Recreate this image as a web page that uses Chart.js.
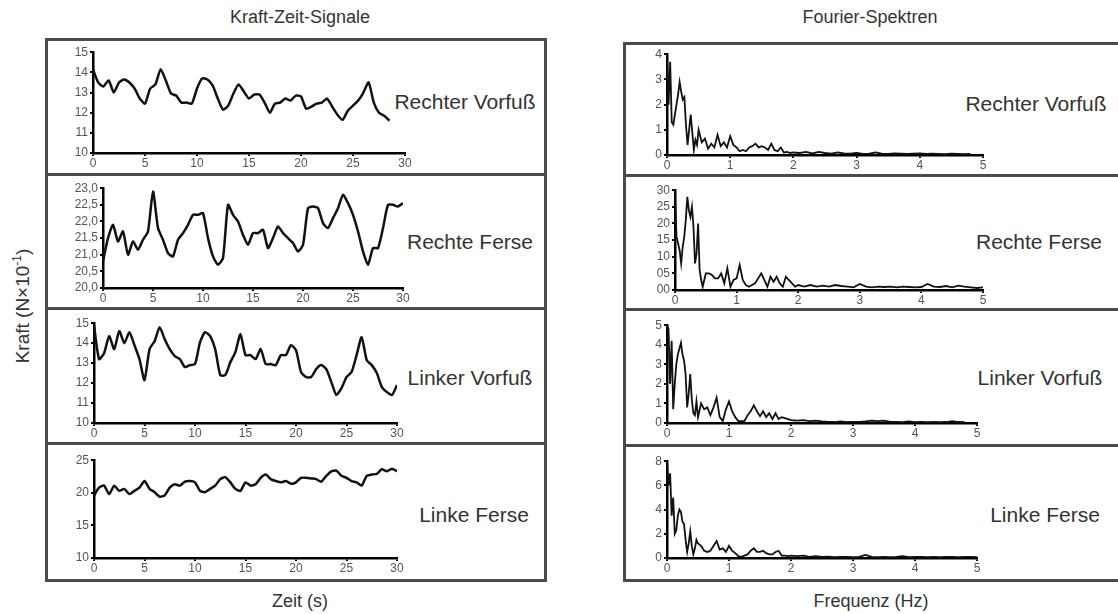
<!DOCTYPE html>
<html>
<head>
<meta charset="utf-8">
<style>
  body { margin: 0; background: #fff; }
  #wrap { position: relative; width: 1118px; height: 614px; font-family: "Liberation Sans", Arial, sans-serif; color: #333; overflow: hidden; }
  .box { position: absolute; border: 3px solid #4a4a4a; box-sizing: border-box; }
  .rule { position: absolute; height: 3px; background: #4a4a4a; }
  .lbl { position: absolute; transform: translate(-50%, -50%); white-space: nowrap; font-size: 21px; color: #333; }
  .head { position: absolute; transform: translate(-50%, -50%); white-space: nowrap; font-family: "Liberation Sans Narrow", "Liberation Sans", Arial, sans-serif; font-size: 18px; color: #333; }
  .foot { position: absolute; transform: translate(-50%, -50%); white-space: nowrap; font-size: 18px; color: #333; }
  canvas { position: absolute; }
</style>
</head>
<body>
<div id="wrap">
  <div class="head" style="left:300px;top:17px">Kraft-Zeit-Signale</div>
  <div class="head" style="left:870px;top:17px">Fourier-Spektren</div>
  <div class="foot" style="left:300px;top:601px">Zeit (s)</div>
  <div class="foot" style="left:871px;top:601px">Frequenz (Hz)</div>
  <div class="foot" style="left:22px;top:306px;font-size:19px;transform:translate(-50%,-50%) rotate(-90deg)">Kraft (N×10<sup style="font-size:12px">-1</sup>)</div>

  <div class="box" style="left:45px;top:38px;width:502px;height:544px"></div>
  <div class="rule" style="left:45px;top:173px;width:502px"></div>
  <div class="rule" style="left:45px;top:307px;width:502px"></div>
  <div class="rule" style="left:45px;top:442px;width:502px"></div>

  <div class="box" style="left:623px;top:42px;width:500px;height:540px"></div>
  <div class="rule" style="left:623px;top:174px;width:500px"></div>
  <div class="rule" style="left:623px;top:308px;width:500px"></div>
  <div class="rule" style="left:623px;top:444px;width:500px"></div>

  <div class="lbl" style="left:465px;top:102px">Rechter Vorfuß</div>
  <div class="lbl" style="left:470px;top:242px">Rechte Ferse</div>
  <div class="lbl" style="left:470px;top:378px">Linker Vorfuß</div>
  <div class="lbl" style="left:474px;top:515px">Linke Ferse</div>
  <div class="lbl" style="left:1036px;top:104px">Rechter Vorfuß</div>
  <div class="lbl" style="left:1039px;top:242px">Rechte Ferse</div>
  <div class="lbl" style="left:1040px;top:378px">Linker Vorfuß</div>
  <div class="lbl" style="left:1045px;top:515px">Linke Ferse</div>
</div>

<script src="https://cdn.jsdelivr.net/npm/chart.js"></script>
<script>
// time axis (s), 0.5 s steps
const time = [0,0.5,1,1.5,2,2.5,3,3.5,4,4.5,5,5.5,6,6.5,7,7.5,8,8.5,9,9.5,
  10,10.5,11,11.5,12,12.5,13,13.5,14,14.5,15,15.5,16,16.5,17,17.5,18,18.5,19,19.5,
  20,20.5,21,21.5,22,22.5,23,23.5,24,24.5,25,25.5,26,26.5,27,27.5,28,28.5,29,29.5,30];

// force signals
const rechterVorfuss = [14.15,13.5,13.3,13.6,13.0,13.5,13.65,13.5,13.2,12.7,
  12.45,13.2,13.4,14.15,13.6,12.95,12.85,12.5,12.5,12.45,
  13.2,13.7,13.65,13.35,12.7,12.15,12.35,12.95,13.4,13.05,
  12.7,12.9,12.9,12.5,12.0,12.45,12.5,12.7,12.6,12.85,
  12.8,12.2,12.3,12.45,12.5,12.7,12.3,11.9,11.65,12.1,
  12.35,12.6,13.0,13.5,12.5,12.0,11.85,11.6];
const rechteFerse = [20.8,21.5,21.9,21.4,21.7,21.0,21.4,21.15,21.45,21.7,
  22.9,21.8,21.45,21.05,20.95,21.45,21.65,21.9,22.2,22.2,
  22.25,21.5,20.95,20.7,20.9,22.5,22.2,22.0,21.6,21.3,
  21.65,21.65,21.75,21.2,21.5,21.85,21.65,21.5,21.35,21.1,
  21.3,22.4,22.45,22.4,21.95,21.8,22.1,22.4,22.8,22.55,
  22.2,21.7,21.1,20.7,21.2,21.2,21.8,22.5,22.5,22.45,22.55];
const linkerVorfuss = [14.9,13.2,13.5,14.35,13.7,14.6,14.0,14.55,13.9,13.2,
  12.15,13.7,14.1,14.8,14.2,13.7,13.35,13.2,12.8,12.9,
  12.95,14.05,14.55,14.35,13.7,12.4,12.4,13.05,13.55,14.45,
  13.4,13.4,13.2,13.7,12.95,12.95,12.9,13.4,13.4,13.9,
  13.65,12.55,12.3,12.3,12.7,12.9,12.7,12.05,11.4,11.75,
  12.3,12.55,13.4,14.3,13.15,12.9,12.5,11.8,11.55,11.4,11.9];
const linkeFerse = [19.55,20.8,21.1,19.8,21.1,20.3,20.6,19.8,20.3,20.8,
  21.8,20.6,20.1,19.4,19.6,20.8,21.3,21.1,21.7,21.8,
  21.6,20.3,20.1,20.6,21.1,22.1,22.4,21.6,20.6,20.3,
  21.6,21.1,21.3,22.3,22.8,22.1,21.8,21.6,21.8,21.4,
  21.6,22.3,22.3,22.2,22.1,21.7,22.6,23.3,23.4,22.6,
  22.3,21.8,21.6,21.1,22.6,22.8,22.9,23.6,23.3,23.7,23.3];

// frequency axis (Hz)
const freq = [0,0.025,0.05,0.075,0.1,0.125,0.15,0.175,0.2,0.225,0.25,0.275,0.3,0.325,0.35,0.375,0.4,0.425,0.45,0.475,0.5,
  0.55,0.6,0.65,0.7,0.75,0.8,0.85,0.9,0.95,1.0,1.05,1.1,1.15,1.2,1.25,1.3,1.35,1.4,1.45,1.5,
  1.55,1.6,1.65,1.7,1.75,1.8,1.85,1.9,1.95,2.0,
  2.1,2.2,2.3,2.4,2.5,2.6,2.7,2.8,2.9,3.0,3.1,3.2,3.3,3.4,3.5,3.6,3.7,3.8,3.9,4.0,
  4.1,4.2,4.3,4.4,4.5,4.6,4.7,4.8,4.9,5.0];

// spectra
const specRechterVorfuss = [4.0,2.0,3.7,1.3,1.2,1.6,2.0,2.4,2.9,2.5,2.2,2.3,1.2,0.4,1.0,1.6,0.9,0.2,0.6,0.4,1.0,
  0.5,0.65,0.25,0.45,0.3,0.8,0.35,0.5,0.3,0.75,0.4,0.3,0.15,0.2,0.15,0.3,0.35,0.45,0.3,0.35,
  0.3,0.2,0.45,0.2,0.15,0.3,0.1,0.12,0.08,0.1,
  0.08,0.12,0.06,0.12,0.08,0.05,0.1,0.06,0.05,0.08,0.04,0.05,0.1,0.05,0.04,0.06,0.05,0.04,0.05,0.06,
  0.04,0.05,0.04,0.03,0.05,0.04,0.03,0.04];
const specRechteFerse = [29.5,16,14,12,8,13,16,21,28,24,22,25,19,8,11,20,6,3,1,3,5,
  5,4.5,3.5,3.5,5,2,6.5,1,3,3.5,7.5,3,1.5,1,1.5,2,3.5,5,3,1,
  4,2.5,4,2,1,4,3,2,1,1.5,
  1,1.5,1,1.3,1,1.5,1.2,1,0.8,1.8,1,0.8,1,0.9,1,0.8,1,0.9,0.8,0.9,
  1.8,1,0.9,1.2,0.8,1.3,1,0.8,0.6,0.8];
const specLinkerVorfuss = [5.0,4.8,2.0,4.2,0.7,2.0,3.0,3.5,3.8,4.1,3.5,3.2,2.5,0.8,1.5,2.5,1.2,0.5,0.4,1.1,0.3,
  1.0,0.7,0.8,0.4,0.8,1.3,0.3,0.1,0.7,1.1,0.6,0.3,0.1,0.1,0.1,0.4,0.6,0.9,0.6,0.35,
  0.6,0.3,0.5,0.2,0.5,0.2,0.3,0.25,0.2,0.15,
  0.12,0.15,0.1,0.12,0.08,0.06,0.05,0.08,0.05,0.05,0.06,0.08,0.12,0.1,0.12,0.06,0.05,0.04,0.08,0.04,
  0.05,0.04,0.05,0.04,0.05,0.1,0.05,0.04];
const specLinkeFerse = [8.0,6.0,7.0,3.5,5.0,2.0,2.3,3.5,4.0,3.8,3.0,2.8,1.5,0.5,1.2,2.2,1.0,0.3,0.8,1.5,1.2,
  1.0,0.6,0.5,0.6,1.0,1.4,0.7,0.8,0.5,1.0,0.6,0.4,0.15,0.1,0.2,0.3,0.6,0.8,0.5,0.5,
  0.6,0.4,0.3,0.3,0.5,0.6,0.2,0.2,0.15,0.2,
  0.15,0.2,0.1,0.15,0.1,0.12,0.08,0.1,0.1,0.08,0.1,0.25,0.1,0.08,0.1,0.08,0.1,0.15,0.08,0.1,
  0.1,0.08,0.1,0.08,0.1,0.1,0.08,0.1,0.1,0.08];

// tick values and labels
const timeTicks = [0,5,10,15,20,25,30];
const freqTicks = [0,1,2,3,4,5];
const ticksVorfuss = [10,11,12,13,14,15];
const ticksRechteFerse = [20,20.5,21,21.5,22,22.5,23];
const labelsRechteFerse = ['20,0','20,5','21,0','21,5','22,0','22,5','23,0'];
const ticksLinkeFerse = [10,15,20,25];
const ticksSpecRV = [0,1,2,3,4];
const ticksSpecRF = [0,5,10,15,20,25,30];
const labelsSpecRF = ['00','05','10','15','20','25','30'];
const ticksSpecLV = [0,1,2,3,4,5];
const ticksSpecLF = [0,2,4,6,8];

const YW = 40, XH = 18, PT = 8, PR = 14;

function axis(vals, labels, isX) {
  return {
    type: 'linear',
    min: vals[0],
    max: vals[vals.length - 1],
    afterBuildTicks: (s) => { s.ticks = vals.map(v => ({ value: v })); },
    afterFit: (s) => { if (isX) s.height = XH; else s.width = YW; },
    grid: { display: true, drawOnChartArea: false, drawTicks: true, tickLength: 3, color: '#000', lineWidth: 2 },
    border: { display: true, color: '#000', width: 2.5 },
    ticks: {
      autoSkip: false,
      maxRotation: 0,
      padding: isX ? 0 : 2,
      color: '#555',
      font: { family: 'Liberation Sans', size: 12 },
      callback: (v, i) => labels ? labels[i] : String(vals[i])
    }
  };
}

function panel(rect, xs, ys, xTicks, yTicks, yLabels, width, tension) {
  const [x0, x1, y0, y1] = rect;
  const c = document.createElement('canvas');
  const w = x1 - x0 + YW + PR, h = y1 - y0 + PT + XH;
  c.width = w; c.height = h;
  c.style.left = (x0 - YW) + 'px';
  c.style.top = (y0 - PT) + 'px';
  c.style.width = w + 'px'; c.style.height = h + 'px';
  document.getElementById('wrap').appendChild(c);
  new Chart(c, {
    type: 'line',
    data: {
      datasets: [{
        data: ys.map((v, i) => ({ x: xs[i], y: v })),
        borderColor: '#111',
        borderWidth: width,
        pointRadius: 0,
        tension: tension,
        fill: false
      }]
    },
    options: {
      responsive: false,
      animation: false,
      events: [],
      layout: { padding: { top: PT, right: PR, left: 0, bottom: 0 } },
      plugins: { legend: { display: false }, tooltip: { enabled: false } },
      scales: {
        x: axis(xTicks, null, true),
        y: axis(yTicks, yLabels, false)
      }
    }
  });
}

panel([93, 405, 51, 153], time, rechterVorfuss, timeTicks, ticksVorfuss, null, 2.5, 0.2);
panel([103, 403, 187, 288], time, rechteFerse, timeTicks, ticksRechteFerse, labelsRechteFerse, 2.5, 0.2);
panel([94, 397, 322, 423], time, linkerVorfuss, timeTicks, ticksVorfuss, null, 2.5, 0.2);
panel([94, 397, 459, 558], time, linkeFerse, timeTicks, ticksLinkeFerse, null, 2.5, 0.2);

panel([667, 983, 53, 155], freq, specRechterVorfuss, freqTicks, ticksSpecRV, null, 1.8, 0);
panel([675, 983, 189, 290], freq, specRechteFerse, freqTicks, ticksSpecRF, labelsSpecRF, 1.8, 0);
panel([667, 977, 324, 423], freq, specLinkerVorfuss, freqTicks, ticksSpecLV, null, 1.8, 0);
panel([667, 977, 460, 558], freq, specLinkeFerse, freqTicks, ticksSpecLF, null, 1.8, 0);
</script>
</body>
</html>
